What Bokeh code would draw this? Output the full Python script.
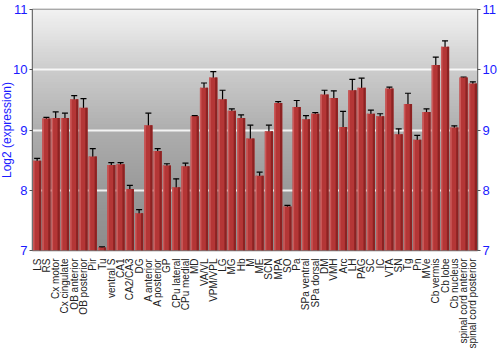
import math
from bokeh.plotting import figure
from bokeh.models import (FactorRange, ColumnDataSource, Whisker, TeeHead, BoxAnnotation,
                          Grid, LinearAxis, SingleIntervalTicker, Range1d, Title)
from bokeh.transform import dodge
from bokeh.embed import file_html
from bokeh.resources import INLINE

regions = ["LS", "RS", "Cx motor", "Cx cingulate", "OB anterior", "OB posterior", "Pir", "Tu",
           "ventral S", "CA1", "CA2/CA3", "DG", "A anterior", "A posterior", "GP", "CPu lateral",
           "CPu medial", "MD", "VA/VL", "VPM/VPL", "LG", "MG", "Hb", "M", "ME", "SCN", "MPA", "SO",
           "Pa", "SPa ventral", "SPa dorsal", "DM", "VMH", "Arc", "LH", "PAG", "SC", "IC", "VTA",
           "SN", "Tg", "Pn", "MVe", "Cb vermis", "Cb lobe", "Cb nucleus", "spinal cord anterior",
           "spinal cord posterior"]
expression = [8.49, 9.19, 9.20, 9.20, 9.51, 9.37, 8.56, 7.05,
              8.42, 8.43, 8.02, 7.62, 9.08, 8.65, 8.41, 8.05,
              8.40, 9.23, 9.70, 9.87, 9.51, 9.32, 9.20, 8.86, 8.24, 8.98, 9.45, 7.73,
              9.38, 9.18, 9.27, 9.59, 9.53, 9.05, 9.66, 9.70, 9.27, 9.23, 9.69,
              8.93, 9.43, 8.84, 9.30, 10.08, 10.38, 9.04, 9.87, 9.77]
error = [0.04, 0.02, 0.10, 0.08, 0.06, 0.15, 0.13, 0.01,
         0.04, 0.03, 0.06, 0.06, 0.20, 0.04, 0.03, 0.14,
         0.05, 0.01, 0.08, 0.10, 0.15, 0.03, 0.05, 0.22, 0.06, 0.10, 0.02, 0.02,
         0.11, 0.06, 0.02, 0.07, 0.12, 0.26, 0.18, 0.16, 0.06, 0.04, 0.02,
         0.09, 0.18, 0.07, 0.05, 0.13, 0.10, 0.03, 0.01, 0.03]
y_title = "Log2 (expression)"

y_min, y_max = 7, 11
blue = "#1a1aff"

src = ColumnDataSource(dict(
    x=regions, top=expression,
    upper=[v + e for v, e in zip(expression, error)],
    lower=[v - e for v, e in zip(expression, error)],
))

p = figure(x_range=FactorRange(*regions, range_padding=0), y_range=Range1d(y_min, y_max),
           frame_width=445, frame_height=241, output_backend="svg", toolbar_location=None,
           min_border_left=0, min_border_right=0, min_border_top=9, min_border_bottom=98,
           y_axis_location=None)
p.xgrid.visible = False
p.ygrid.visible = False
p.outline_line_color = "#707070"
p.outline_line_width = 1.5
p.background_fill_color = "#f2f2f2"

# background gradient
stops = [(7.0, 0x8c), (8.0, 0x99), (9.0, 0xae), (10.0, 0xcc), (11.0, 0xf2)]
n = 80
step = (y_max - y_min) / n
for i in range(n):
    y0 = y_min + step * i
    ym = y0 + step / 2
    for (a, ca), (b, cb) in zip(stops[:-1], stops[1:]):
        if a <= ym <= b:
            c = int(round(ca + (cb - ca) * (ym - a) / (b - a)))
            break
    col = "#%02x%02x%02x" % (c, c, c)
    p.add_layout(BoxAnnotation(bottom=y0, top=min(y0 + 2.5 * step, y_max), fill_color=col,
                               fill_alpha=1, line_alpha=0, level="underlay"))

g = Grid(dimension=1, ticker=SingleIntervalTicker(interval=1), grid_line_color="white",
         grid_line_width=2, grid_line_alpha=0.85, level="underlay")
p.add_layout(g, "center")

# bars with horizontal shading
p.vbar(x="x", top="top", bottom=y_min, width=0.88, source=src, fill_color="#b43636",
       line_color=None)
p.vbar(x=dodge("x", -0.36, range=p.x_range), top="top", bottom=y_min, width=0.16, source=src,
       fill_color="#cc5a5a", line_color=None)
p.vbar(x=dodge("x", 0.32, range=p.x_range), top="top", bottom=y_min, width=0.24, source=src,
       fill_color="#8c2222", line_color=None)

w = Whisker(base="x", upper="upper", lower="lower", source=src, line_color="black",
            line_width=1.2,
            upper_head=TeeHead(size=6, line_color="black", line_width=1.2),
            lower_head=TeeHead(size=6, line_color="black", line_width=1.2))
p.add_layout(w)

for side in ("left", "right"):
    ax = LinearAxis(ticker=SingleIntervalTicker(interval=1))
    ax.major_label_text_color = blue
    ax.major_label_text_font = "Liberation Sans"
    ax.major_label_text_font_size = "13px"
    ax.axis_line_color = "#707070"
    ax.major_tick_line_color = "#555555"
    ax.major_tick_out = 3
    ax.major_tick_in = 0
    ax.minor_tick_line_color = None
    ax.major_label_standoff = 1
    p.add_layout(ax, side)

p.add_layout(Title(text=y_title, align="center", text_color=blue, text_font="Liberation Sans",
                   text_font_size="12px", text_font_style="normal", standoff=-6, offset=0),
             "left")

xa = p.xaxis[0]
xa.major_label_orientation = math.pi / 2
xa.major_label_text_font = "Liberation Sans"
xa.major_label_text_font_size = "10px"
xa.major_label_text_color = "#222222"
xa.major_tick_line_color = None
xa.axis_line_color = None
xa.major_label_standoff = 2
xa.group_text_font_size = "0px"

open("out.html", "w").write(file_html(p, INLINE))
